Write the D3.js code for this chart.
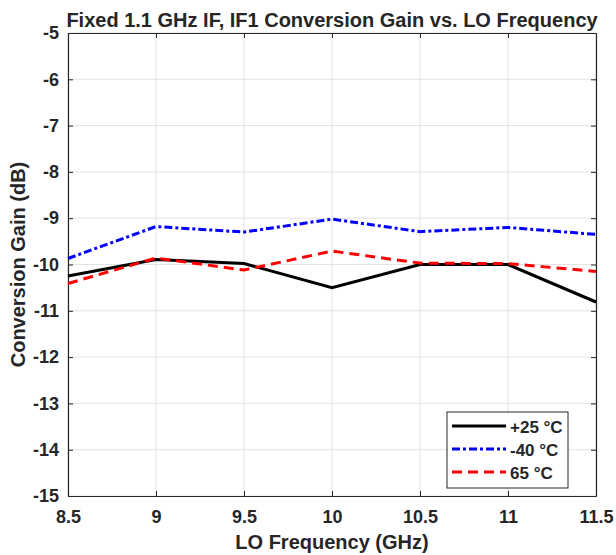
<!DOCTYPE html>
<html>
<head>
<meta charset="utf-8">
<script src="https://cdn.jsdelivr.net/npm/d3@7"></script>
<style>
  body { margin: 0; background: #fff; }
  svg text { font-family: "Liberation Sans", Arial, sans-serif; font-weight: bold; fill: #262626; }
</style>
</head>
<body>
<div class="chart"></div>
<script>
// LO frequency (GHz)
const loFreq = [8.5, 9, 9.5, 10, 10.5, 11, 11.5];
// conversion gain (dB) per temperature
const gain25 = [-10.25, -9.89, -9.98, -10.5, -10.0, -10.0, -10.81];
const gainM40 = [-9.87, -9.18, -9.3, -9.02, -9.29, -9.2, -9.35];
const gain65 = [-10.41, -9.86, -10.12, -9.71, -9.97, -9.98, -10.15];
const seriesNames = ["+25 \u00B0C", "-40 \u00B0C", "65 \u00B0C"];
const xTicks = [8.5, 9, 9.5, 10, 10.5, 11, 11.5];
const yTicks = [-15, -14, -13, -12, -11, -10, -9, -8, -7, -6, -5];

const series = [
  { name: seriesNames[0], values: gain25, color: "#000000", dash: null },
  { name: seriesNames[1], values: gainM40, color: "#0000ff", dash: "8,3,3,3" },
  { name: seriesNames[2], values: gain65, color: "#ff0000", dash: "10,6" }
];

const W = 616, H = 555;
const margin = { top: 33, right: 20, bottom: 59, left: 68 };
const width = W - margin.left - margin.right;
const height = H - margin.top - margin.bottom;

const svg = d3.select(".chart")
  .append("svg")
  .attr("width", W)
  .attr("height", H);

const g = svg.append("g")
  .attr("transform", `translate(${margin.left},${margin.top})`);

const x = d3.scaleLinear().domain([8.5, 11.5]).range([0, width]);
const y = d3.scaleLinear().domain([-15, -5]).range([height, 0]);

// grid
g.append("g").selectAll("line")
  .data(xTicks)
  .join("line")
  .attr("x1", d => x(d)).attr("x2", d => x(d))
  .attr("y1", 0).attr("y2", height)
  .attr("stroke", "#e3e3e3").attr("stroke-width", 1);
g.append("g").selectAll("line")
  .data(yTicks)
  .join("line")
  .attr("x1", 0).attr("x2", width)
  .attr("y1", d => y(d)).attr("y2", d => y(d))
  .attr("stroke", "#e3e3e3").attr("stroke-width", 1);

// axes (ticks pointing inward, box on)
const axisColor = "#262626";
const fmt = d => String(d);   // plain hyphen minus, like the original
function styleAxis(sel) {
  sel.select(".domain").attr("stroke", axisColor).attr("stroke-width", 1.2);
  sel.selectAll(".tick line").attr("stroke", axisColor);
  sel.selectAll(".tick text").attr("font-size", "18px").attr("fill", axisColor)
    .attr("font-family", "Liberation Sans, Arial, sans-serif").attr("font-weight", "bold");
}

g.append("g")
  .attr("transform", `translate(0,${height})`)
  .call(d3.axisBottom(x).tickValues(xTicks).tickFormat(fmt).tickSizeInner(-5).tickSizeOuter(0).tickPadding(14))
  .call(styleAxis);
g.append("g")
  .call(d3.axisLeft(y).tickValues(yTicks).tickFormat(fmt).tickSizeInner(-5).tickSizeOuter(0).tickPadding(9))
  .call(styleAxis);
g.append("g")
  .call(d3.axisTop(x).tickValues(xTicks).tickFormat("").tickSizeInner(-5).tickSizeOuter(0))
  .call(styleAxis);
g.append("g")
  .attr("transform", `translate(${width},0)`)
  .call(d3.axisRight(y).tickValues(yTicks).tickFormat("").tickSizeInner(-5).tickSizeOuter(0))
  .call(styleAxis);

// lines
const line = d3.line()
  .x((d, i) => x(loFreq[i]))
  .y(d => y(d));

g.selectAll(".series")
  .data(series)
  .join("path")
  .attr("class", "series")
  .attr("d", d => line(d.values))
  .attr("fill", "none")
  .attr("stroke", d => d.color)
  .attr("stroke-width", 3)
  .attr("stroke-dasharray", d => d.dash);

// legend
const legend = g.append("g")
  .attr("transform", "translate(379,379)");
legend.append("rect")
  .attr("width", 121).attr("height", 76)
  .attr("fill", "#fff").attr("stroke", axisColor).attr("stroke-width", 1);
series.forEach((s, i) => {
  const row = legend.append("g").attr("transform", `translate(0,${14 + i * 23})`);
  row.append("line")
    .attr("x1", 5).attr("x2", 59)
    .attr("stroke", s.color).attr("stroke-width", 3)
    .attr("stroke-dasharray", s.dash);
  row.append("text")
    .attr("x", 63).attr("y", 6.5)
    .attr("font-size", "17px")
    .attr("fill", "#000")
    .text(s.name);
});

// title and axis labels
svg.append("text")
  .attr("x", margin.left + width / 2).attr("y", 27)
  .attr("text-anchor", "middle")
  .attr("font-size", "20px")
  .attr("fill", "#000")
  .text("Fixed 1.1 GHz IF, IF1 Conversion Gain vs. LO Frequency");

svg.append("text")
  .attr("x", margin.left + width / 2).attr("y", 549)
  .attr("text-anchor", "middle")
  .attr("font-size", "20px")
  .text("LO Frequency (GHz)");

svg.append("text")
  .attr("transform", `translate(25,${margin.top + height / 2}) rotate(-90)`)
  .attr("text-anchor", "middle")
  .attr("font-size", "20px")
  .text("Conversion Gain (dB)");
</script>
</body>
</html>
